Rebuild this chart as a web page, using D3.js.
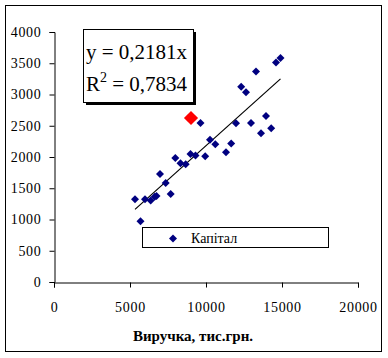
<!DOCTYPE html>
<html><head><meta charset="utf-8">
<script src="https://cdn.jsdelivr.net/npm/d3@7"></script>
<style>
html,body{margin:0;padding:0;background:#fff;}
svg{display:block;}
</style></head>
<body>
<svg id="chart" width="388" height="358" font-family="Liberation Serif"></svg>
<script>
// Data
const revenue = [5329, 5691, 5987, 6362, 6625, 6743, 6974, 7349, 7678, 7980, 8322, 8664, 8980, 9309, 9947, 10263, 10612, 11316, 11658, 11974, 12961, 13618, 13947, 14289, 12316, 12632, 13289, 14605, 14901, 9638];
const capital = [1323, 973, 1323, 1304, 1365, 1376, 1728, 1584, 1408, 1984, 1899, 1883, 2048, 2024, 2011, 2277, 2205, 2075, 2216, 2539, 2544, 2379, 2656, 2459, 3125, 3037, 3368, 3512, 3584, 2544];
const highlightRevenue = [9013];
const highlightCapital = [2624];
const slope = 0.2181;
const r2 = 0.7834;
const xTicks = [0, 5000, 10000, 15000, 20000];
const yTicks = [0, 500, 1000, 1500, 2000, 2500, 3000, 3500, 4000];
const seriesName = "Капітал";
const xTitle = "Виручка, тис.грн.";

const FONT = "Liberation Serif";
const svg = d3.select("#chart");

// outer frame
svg.append("rect").attr("x", 5.5).attr("y", 5.5).attr("width", 376).attr("height", 346)
  .attr("fill", "#fff").attr("stroke", "#000").attr("stroke-width", 1);

const x = d3.scaleLinear().domain([0, 20000]).range([54, 358]);
const y = d3.scaleLinear().domain([0, 4000]).range([282, 32]);

// Y axis
const yAxis = svg.append("g").attr("transform", "translate(54.5,0)")
  .call(d3.axisLeft(y).tickValues(yTicks).tickSize(5).tickPadding(8).tickFormat(d3.format("d")));
yAxis.attr("font-family", FONT).attr("font-size", 14);
yAxis.select(".domain").attr("stroke", "#000");
yAxis.selectAll(".tick line").attr("stroke", "#000");
yAxis.selectAll("text").attr("font-size", 14).attr("font-family", FONT)
  .attr("letter-spacing", 0.7).attr("fill", "#000");

// X axis
const xAxis = svg.append("g").attr("transform", "translate(0,282.5)")
  .call(d3.axisBottom(x).tickValues(xTicks).tickSize(5).tickPadding(15).tickFormat(d3.format("d")));
xAxis.attr("font-family", FONT).attr("font-size", 14);
xAxis.select(".domain").attr("stroke", "#000");
xAxis.selectAll(".tick line").attr("stroke", "#000");
xAxis.selectAll("text").attr("font-size", 14).attr("font-family", FONT)
  .attr("letter-spacing", 0.7).attr("fill", "#000");

// X title
svg.append("text").attr("x", 193).attr("y", 341).attr("text-anchor", "middle")
  .attr("font-family", FONT).attr("font-size", 15).attr("font-weight", "bold").text(xTitle);

// Trend line y = slope * x
const xmin = d3.min(revenue), xmax = d3.max(revenue);
svg.append("line")
  .attr("x1", x(xmin)).attr("y1", y(slope * xmin))
  .attr("x2", x(xmax)).attr("y2", y(slope * xmax))
  .attr("stroke", "#000").attr("stroke-width", 1.2);

// points
const pts = revenue.map((v, i) => ({x: v, y: capital[i]}));
svg.append("g").selectAll("path").data(pts).join("path")
  .attr("d", d3.symbol().type(d3.symbolSquare).size(32))
  .attr("transform", d => `translate(${x(d.x)},${y(d.y)}) rotate(45)`)
  .attr("fill", "#000080");

const hpts = highlightRevenue.map((v, i) => ({x: v, y: highlightCapital[i]}));
svg.append("g").selectAll("path").data(hpts).join("path")
  .attr("d", d3.symbol().type(d3.symbolSquare).size(100))
  .attr("transform", d => `translate(${x(d.x)},${y(d.y)}) rotate(45)`)
  .attr("fill", "#ff0000");

// Equation box with shadow
const bx = 83, by = 29, bw = 110, bh = 73;
svg.append("rect").attr("x", bx + 3).attr("y", by + 3).attr("width", bw).attr("height", bh).attr("fill", "#000");
svg.append("rect").attr("x", bx + 0.5).attr("y", by + 0.5).attr("width", bw).attr("height", bh)
  .attr("fill", "#fff").attr("stroke", "#000");
const fmt = v => String(v).replace(".", ",");
svg.append("text").attr("x", 86).attr("y", 58.5).attr("font-family", FONT).attr("font-size", 21)
  .text(`y = ${fmt(slope)}x`);
const t2 = svg.append("text").attr("x", 86).attr("y", 91).attr("font-family", FONT).attr("font-size", 21);
t2.append("tspan").text("R");
t2.append("tspan").attr("dy", -9).attr("font-size", 14).text("2");
t2.append("tspan").attr("dy", 9).text(` = ${fmt(r2)}`);

// Legend
svg.append("rect").attr("x", 142.5).attr("y", 227.5).attr("width", 186).attr("height", 20)
  .attr("fill", "#fff").attr("stroke", "#000");
svg.append("path").attr("d", d3.symbol().type(d3.symbolSquare).size(32))
  .attr("transform", "translate(173,238.5) rotate(45)").attr("fill", "#000080");
svg.append("text").attr("x", 191).attr("y", 243).attr("font-family", FONT).attr("font-size", 14).text(seriesName);
</script>
</body></html>
